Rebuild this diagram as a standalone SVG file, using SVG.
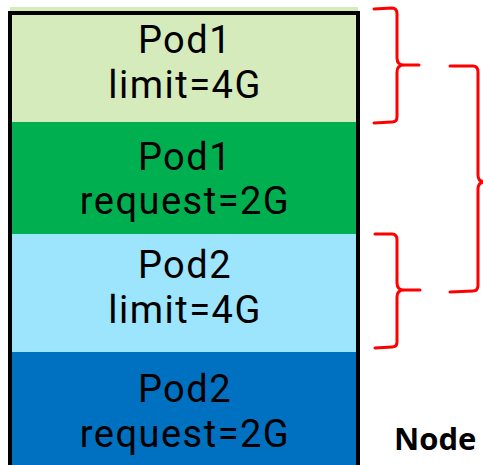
<svg xmlns="http://www.w3.org/2000/svg" width="483" height="465" viewBox="0 0 483 465">
  <style>
    .lbl { font-family: Roboto, "Liberation Sans", sans-serif; font-size: 38px; letter-spacing: 1.5px; fill: #000; text-anchor: middle; }
    .brace { fill: none; stroke: #FF0000; stroke-width: 3; stroke-linecap: round; stroke-linejoin: round; }
    .title { font-family: "Open Sans", "Noto Sans", "Liberation Sans", sans-serif; font-size: 31px; font-weight: bold; fill: #000; }
  </style>
  <rect width="483" height="465" fill="#FFFFFF"/>

  <!-- memory bands stacked inside the node -->
  <g id="pod1-limit">
    <rect x="10" y="7" width="348" height="116" fill="#D5EBBB"/>
    <text class="lbl" x="185" y="53">Pod1</text>
    <text class="lbl" x="185" y="98">limit=4G</text>
  </g>
  <g id="pod1-request">
    <rect x="10" y="122" width="348" height="113" fill="#00B050"/>
    <text class="lbl" x="185" y="170">Pod1</text>
    <text class="lbl" x="185" y="214">request=2G</text>
  </g>
  <g id="pod2-limit">
    <rect x="10" y="234" width="348" height="119" fill="#9DE5FC"/>
    <text class="lbl" x="185" y="278">Pod2</text>
    <text class="lbl" x="185" y="323">limit=4G</text>
  </g>
  <g id="pod2-request">
    <rect x="10" y="352" width="348" height="120" fill="#0070C0"/>
    <text class="lbl" x="185" y="402">Pod2</text>
    <text class="lbl" x="185" y="447">request=2G</text>
  </g>

  <!-- node outline -->
  <g id="node">
    <rect x="10" y="13" width="348" height="470" fill="none" stroke="#000" stroke-width="4"/>
    <text class="title" x="394" y="450">Node</text>
  </g>

  <!-- braces grouping the bands -->
  <g id="connectors">
    <path class="brace" d="M374 9 L392 8 Q397 8 397 14 L397 58 Q397 65 404 65 L419 65 M404 65 Q397 65 397 72 L397 117 Q397 122 392 122 L374 123"/>
    <path class="brace" d="M375 234 L392 234 Q397 234 397 240 L397 283 Q397 290 404 290 L420 290 M404 290 Q397 290 397 297 L397 342 Q397 347 392 347 L375 348"/>
    <path class="brace" d="M450 66 L473 66 Q478 66 478 72 L478 175 Q478 182 485 182 M485 182 Q478 182 478 189 L478 285 Q478 291 473 291 L450 292"/>
  </g>
</svg>
